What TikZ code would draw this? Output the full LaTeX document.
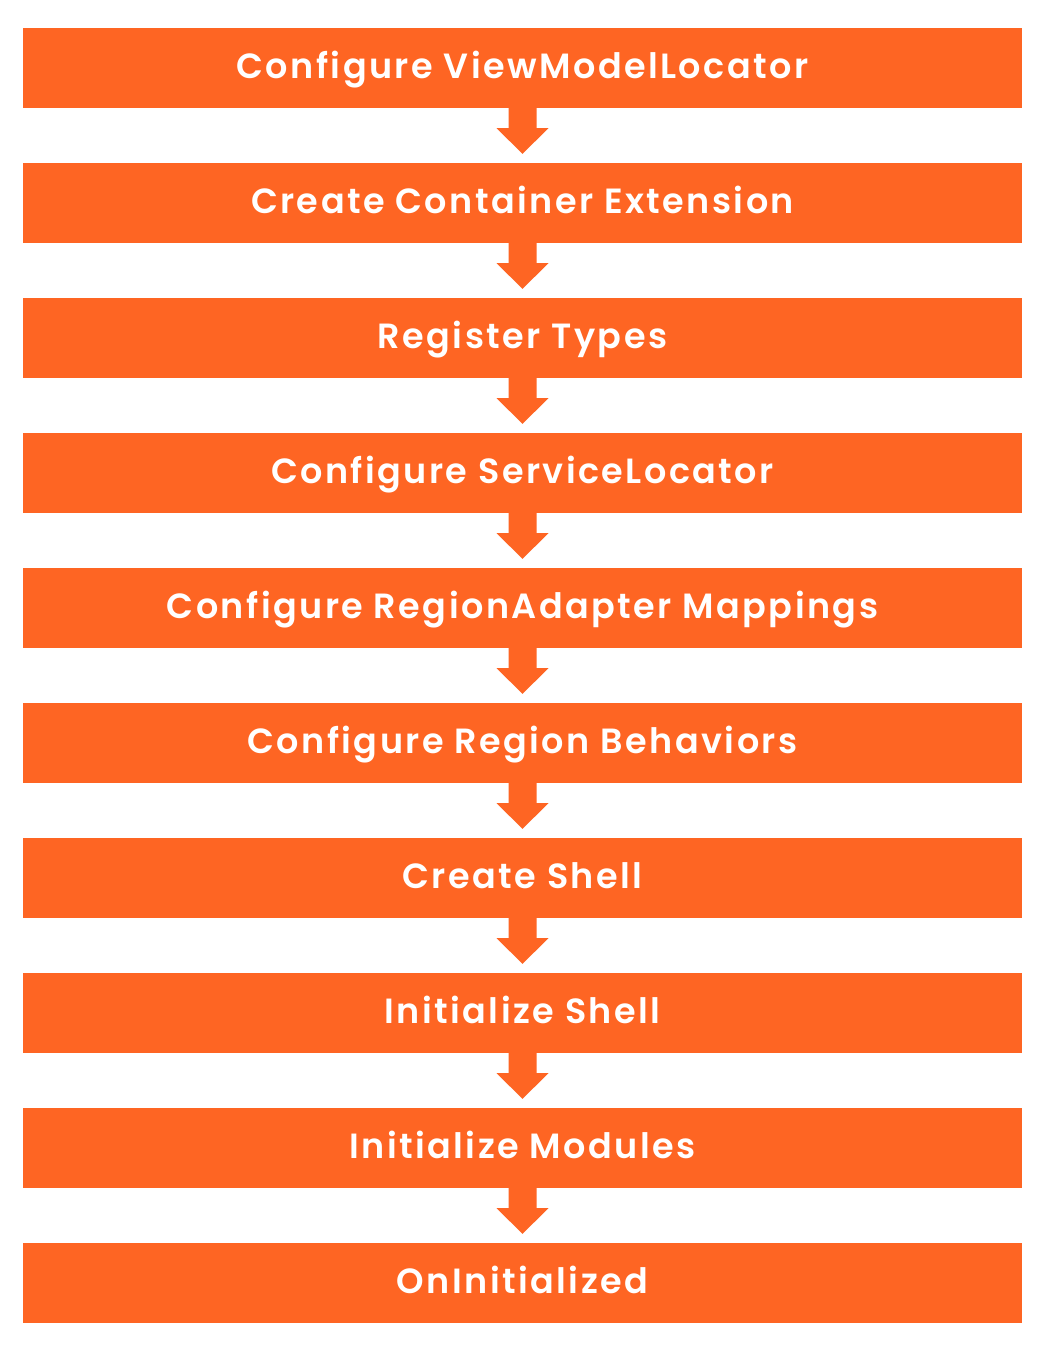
\documentclass[tikz,border=0pt]{standalone}
\usepackage{fontspec}
\newfontfamily\popsemi[LetterSpace=7]{Poppins SemiBold}
\usetikzlibrary{calc}
\definecolor{orng}{RGB}{254,101,35}
\tikzset{
  stepbox/.style={rectangle, fill=orng, draw=none, minimum width=999pt, minimum height=80pt,
    inner sep=0pt, text=white, text height=30pt, text depth=10pt,
    font=\popsemi\fontsize{35}{40}\selectfont},
}
\newcommand{\flowarrow}[2]{%
  \fill[orng] ($(#1.south)+(-14,-2)$) -- ($(#1.south)+(14,-2)$) -- ($(#1.south)+(14,20)$)
   -- ($(#1.south)+(26,20)$) -- ($(#2.north)+(0,-9)$) -- ($(#1.south)+(-26,20)$)
   -- ($(#1.south)+(-14,20)$) -- cycle;}
\begin{document}
\begin{tikzpicture}[x=1pt,y=-1pt]
\useasboundingbox (0,0) rectangle (1060,1350);
\fill[white] (0,0) rectangle (1060,1350);
\node[stepbox] (b0) at (522.5,68) {Configure ViewModelLocator};
\node[stepbox] (b1) at (522.5,203) {Create Container Extension};
\node[stepbox] (b2) at (522.5,338) {Register Types};
\node[stepbox] (b3) at (522.5,473) {Configure ServiceLocator};
\node[stepbox] (b4) at (522.5,608) {Configure RegionAdapter Mappings};
\node[stepbox] (b5) at (522.5,743) {Configure Region Behaviors};
\node[stepbox] (b6) at (522.5,878) {Create Shell};
\node[stepbox] (b7) at (522.5,1013) {Initialize Shell};
\node[stepbox] (b8) at (522.5,1148) {Initialize Modules};
\node[stepbox] (b9) at (522.5,1283) {OnInitialized};
\flowarrow{b0}{b1}
\flowarrow{b1}{b2}
\flowarrow{b2}{b3}
\flowarrow{b3}{b4}
\flowarrow{b4}{b5}
\flowarrow{b5}{b6}
\flowarrow{b6}{b7}
\flowarrow{b7}{b8}
\flowarrow{b8}{b9}
\end{tikzpicture}
\end{document}
